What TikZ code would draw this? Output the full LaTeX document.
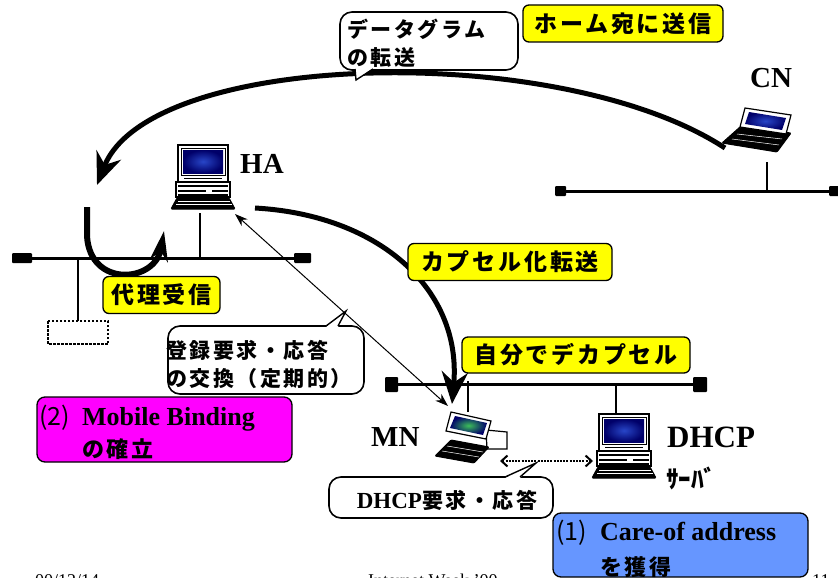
\documentclass[tikz,border=0pt]{standalone}
\usepackage{fontspec}
\setmainfont{Liberation Serif}
\newfontfamily\jpfont[LetterSpace=12]{Noto Sans CJK JP}
\newfontfamily\jpbase{Noto Sans CJK JP}
\usetikzlibrary{arrows.meta}
\definecolor{tagyellow}{RGB}{255,255,0}
\definecolor{bindmag}{RGB}{255,0,255}
\definecolor{coablue}{RGB}{102,150,255}
\definecolor{scrdark}{RGB}{0,0,105}
\definecolor{scrlight}{RGB}{40,70,200}
\definecolor{scrgreen}{RGB}{60,190,90}

\tikzset{
  desktop/.pic={
    % monitor
    \draw[line width=1.2pt, fill=white] (0,0) rectangle (50,37);
    \draw[line width=1pt] (3,3) rectangle (47,30);
    \shade[inner color=scrlight, outer color=scrdark] (5,5) rectangle (45,28);
    \draw[line width=0.8pt] (6,33.5) -- (44,33.5);
    % system unit
    \draw[line width=1.2pt, fill=white] (-2,37) rectangle (52,52);
    \fill (0,40) rectangle (50,42);
    \fill (0,44.5) rectangle (28,46.5);
    \fill (34,44.5) rectangle (50,46.5);
    \fill (0,49) rectangle (50,50.5);
    % keyboard
    \draw[line width=1pt, fill=black, rounded corners=1pt]
      (-1,53) -- (51,53) -- (57,64) -- (-7,64) -- cycle;
    \draw[white, line width=0.6pt] (0,56) -- (52,56) (-2,59.5) -- (54,59.5);
  }
}

\begin{document}
\begin{tikzpicture}[x=1pt,y=-1pt,
  net/.style={line width=3pt},
  term/.style={fill=black, rounded corners=1pt},
  drop/.style={line width=2.5pt},
  tag/.style={draw, line width=1.3pt, fill=tagyellow, rounded corners=6pt,
    inner sep=0pt, font=\jpfont\bfseries\fontsize{23}{25}\selectfont},
  bubble/.style={draw, line width=1.6pt, fill=white, rounded corners=12pt, inner sep=0pt},
  bubtext/.style={font=\jpfont\bfseries\fontsize{21}{28}\selectfont, align=left, inner sep=0pt},
  hostlabel/.style={font=\bfseries\fontsize{29}{30}\selectfont, inner sep=0pt},
  stepbox/.style={draw, line width=1.3pt, rounded corners=8pt, inner sep=0pt},
  steplatin/.style={font=\bfseries\fontsize{26}{28}\selectfont, inner sep=0pt},
  stepnum/.style={font=\jpbase\fontsize{25}{28}\selectfont, inner sep=0pt},
  stepjp/.style={font=\jpfont\bfseries\fontsize{22}{24}\selectfont, inner sep=0pt},
  flow/.style={line width=5pt, -{Stealth[length=32pt,width=26pt]}},
  footer/.style={font=\fontsize{18}{20}\selectfont, inner sep=0pt, anchor=base west},
]
\useasboundingbox (0,0) rectangle (838,578);

% ---------- footer line ----------
\node[footer] (fdate) at (35,586) {00/12/14};
\node[footer] (fevent) at (368,586) {Internet Week '00};
\node[footer] (fpage) at (812,586) {11};

% ---------- home network ----------
\draw[net] (30,258) -- (296,258);
\fill[term] (12,253) rectangle (32,263);
\fill[term] (294,253) rectangle (311,263);
\draw[drop] (200,213) -- (200,258);
\draw[drop] (78,258) -- (78,321);
\draw[line width=2.5pt, dash pattern=on 2.5pt off 1.5pt] (48,321) rectangle (108,344);
\node[inner sep=0pt] (proxybox) at (78,332.5) {};

% ---------- correspondent network ----------
\draw[net] (562,191) -- (836,191);
\fill[term] (555,186) rectangle (566,196);
\fill[term] (829,186) rectangle (840,196);
\draw[drop] (767,162) -- (767,191);

% ---------- visited network ----------
\draw[net] (396,384) -- (696,384);
\fill[term] (385,377) rectangle (398,392);
\fill[term] (693,377) rectangle (707,392);
\draw[drop] (468,381) -- (468,412);
\draw[drop] (616,384) -- (616,415);

% ---------- hosts ----------
\pic at (178,145) {desktop};
\node[inner sep=0pt, minimum width=64pt, minimum height=65pt] (HA) at (203,177) {};
\pic at (599,414) {desktop};
\node[inner sep=0pt, minimum width=64pt, minimum height=65pt] (DHCP) at (624,446) {};

% correspondent node laptop
\draw[line width=1pt, fill=black, rounded corners=1pt]
  (740,127) -- (791,133) -- (777,152) -- (722,143) -- cycle;
\draw[white, line width=0.5pt] (737,134) -- (782,139) (732,139) -- (779,145);
\draw[line width=1.2pt, fill=white] (745,108) -- (791,115) -- (786,134) -- (740,127) -- cycle;
\shade[inner color=scrlight, outer color=scrdark] (749,112) -- (786,118) -- (782,130) -- (745,124) -- cycle;
\node[inner sep=0pt, minimum width=70pt, minimum height=46pt] (CN) at (757,130) {};

% mobile node laptop
\draw[line width=1.2pt, fill=white] (486,430) -- (507,432) -- (507,449) -- (487,449) -- cycle;
\draw[line width=1pt, fill=black, rounded corners=1pt]
  (451,440) -- (489,447) -- (474,463) -- (435,456) -- cycle;
\draw[white, line width=0.5pt] (447,446) -- (483,452) (442,451) -- (479,457);
\draw[line width=1.2pt, fill=white] (451,412) -- (491,421) -- (486,439) -- (446,431) -- cycle;
\shade[inner color=scrgreen, outer color=scrdark] (455,416) -- (487,423) -- (483,435) -- (450,428) -- cycle;
\node[inner sep=0pt, minimum width=70pt, minimum height=55pt] (MN) at (471,437) {};

% host labels
\node[hostlabel, anchor=base west] (HAlbl) at (240,173) {HA};
\node[hostlabel, anchor=base west] (CNlbl) at (750,88) {CN};
\node[hostlabel, anchor=base west] (MNlbl) at (371,446) {MN};
\node[hostlabel, anchor=base west, font=\bfseries\fontsize{31}{32}\selectfont] (DHCPlbl) at (667,447) {DHCP};
\node[inner sep=0pt, anchor=base west, font=\jpbase\bfseries\fontsize{25}{26}\selectfont] (srvlbl) at (666,488) {ｻｰﾊﾞ};

% ---------- packet flows ----------
\coordinate (cnOut) at (725,148);
\coordinate (haIn) at (97,185);
\draw[flow] (cnOut) .. controls (560,40) and (150,50) .. (haIn);

\coordinate (loopStart) at (87,207);
\coordinate (loopTurn) at (87,236);
\coordinate (loopEnd) at (164,231);
\draw[line width=6pt, -{Stealth[length=30pt,width=18pt]}]
  (loopStart) -- (loopTurn) .. controls (90,288) and (155,283) .. (loopEnd);

\coordinate (haOut) at (255,208);
\coordinate (mnIn) at (452,404);
\draw[flow] (haOut) .. controls (380,215) and (462,290) .. (mnIn);

% registration exchange
\coordinate (regHA) at (235,214);
\coordinate (regMN) at (448,406);
\draw[line width=1pt, {Stealth[length=13pt,width=9pt]}-{Stealth[length=13pt,width=9pt]}] (regHA) -- (regMN);

% DHCP exchange
\coordinate (dhcpMN) at (500,461);
\coordinate (dhcpSrv) at (593,461);
\draw[line width=2pt, dash pattern=on 2pt off 1.2pt,
  {Straight Barb[length=6pt,width=11pt]}-{Straight Barb[length=6pt,width=11pt]}] (dhcpMN) -- (dhcpSrv);

% ---------- callouts ----------
\node[bubble, minimum width=178pt, minimum height=58pt] (dgram) at (429,41) {};
\fill[white] (355,68) -- (356,80) -- (373,68) -- cycle;
\draw[line width=1.4pt] (355,69) -- (356,80) -- (373,69);
\node[bubtext, anchor=west] (dgramtxt) at (347,43) {データグラム\\の転送};

\node[bubble, minimum width=196pt, minimum height=68pt] (reg) at (266,360) {};
\fill[white] (326,327) -- (346,311) -- (338,327) -- cycle;
\draw[line width=1.4pt] (326,326) -- (346,311) -- (338,326);
\node[bubtext, anchor=west] (regtxt) at (166,364) {登録要求・応答\\の交換（定期的）};

\node[bubble, minimum width=224pt, minimum height=41pt] (dhcpreq) at (441,497.5) {};
\fill[white] (505,478) -- (536,463) -- (520,478) -- cycle;
\draw[line width=1.4pt] (505,477) -- (536,463) -- (520,477);
\node[inner sep=0pt] (dhcpreqtxt) at (447,500)
  {{\bfseries\fontsize{23}{24}\selectfont DHCP}{\jpfont\bfseries\fontsize{21}{24}\selectfont 要求・応答}};

% ---------- action tags ----------
\node[tag, minimum width=200pt, minimum height=37pt] (homesend) at (623,23.5) {ホーム宛に送信};
\node[tag, minimum width=117pt, minimum height=37pt] (proxy) at (161.5,295) {代理受信};
\node[tag, minimum width=204pt, minimum height=37pt] (encap) at (510,262) {カプセル化転送};
\node[tag, minimum width=228pt, minimum height=36pt] (decap) at (576,355) {自分でデカプセル};

% ---------- steps ----------
\node[stepbox, fill=bindmag, minimum width=255pt, minimum height=65pt] (bind) at (164.5,429.5) {};
\node[stepnum, anchor=base west] (bindnum) at (39,425) {(2)};
\node[steplatin, anchor=base west] (bindtxt) at (82,425) {Mobile Binding};
\node[stepjp, anchor=base west] (bindjp) at (82,457) {の確立};

\node[stepbox, fill=coablue, minimum width=255pt, minimum height=64pt] (coa) at (680.5,545) {};
\node[stepnum, anchor=base west] (coanum) at (556,540) {(1)};
\node[steplatin, anchor=base west] (coatxt) at (600,540) {Care-of address};
\node[stepjp, anchor=base west] (coajp) at (600,575) {を獲得};
\end{tikzpicture}
\end{document}
